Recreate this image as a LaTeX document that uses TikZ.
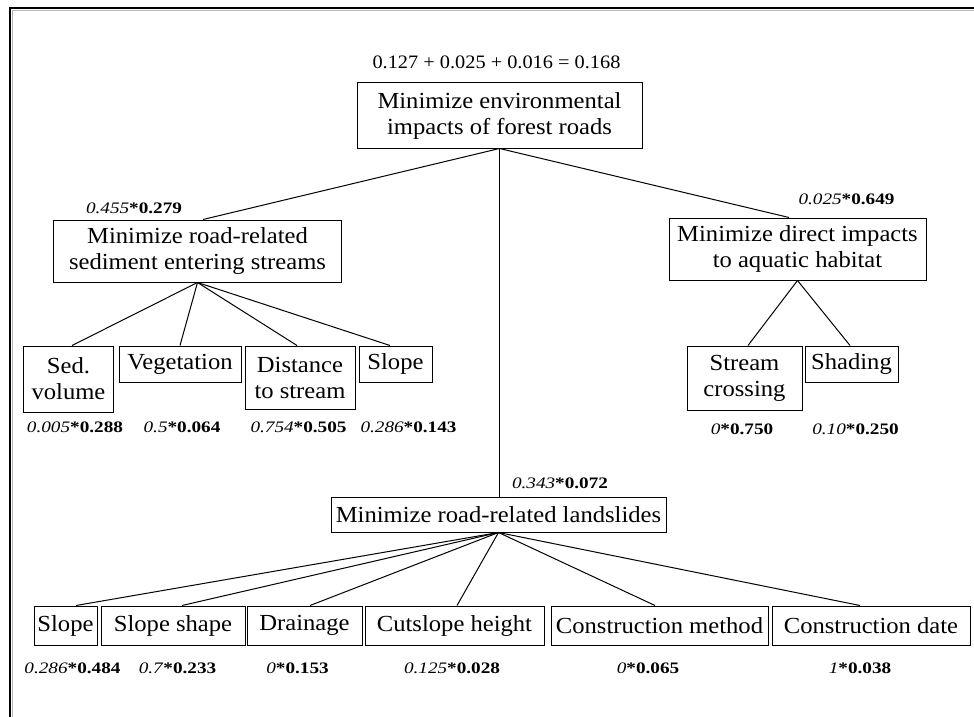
\documentclass[tikz,border=0pt]{standalone}
\usepackage{fontspec}
\setmainfont{Liberation Serif}[FakeStretch=1.07]
\newfontfamily\lblfont{Liberation Serif}[FakeStretch=1.2]
\newcommand{\wlab}[2]{\textit{#1}\textbf{*#2}}
\begin{document}
\begin{tikzpicture}[x=1bp,y=-1bp,
  box/.style={draw, line width=1bp, inner sep=0pt, align=center,
    font=\fontsize{23bp}{26bp}\selectfont},
  lbl/.style={inner sep=0pt, font=\lblfont\fontsize{16bp}{18bp}\selectfont},
  eqlbl/.style={inner sep=0pt, font=\fontsize{19bp}{22bp}\selectfont},
  link/.style={line width=1bp}]
\useasboundingbox (0,0) rectangle (974,717);
% frame
\draw[gray!55, line width=1.2bp] (12.8,717) -- (12.8,10.8) -- (974,10.8);
\draw[line width=2bp] (10,717) -- (10,8) -- (974,8);

% top equation
\node[eqlbl] (eq) at (496.5,62) {0.127 + 0.025 + 0.016 = 0.168};

% boxes
\node[box, minimum width=285bp, minimum height=65bp] (root) at (499.5,115.5) {Minimize environmental\\impacts of forest roads};
\node[box, minimum width=287bp, minimum height=62bp] (sed) at (197.5,251) {Minimize road-related\\sediment entering streams};
\node[box, minimum width=257bp, minimum height=62bp] (aqu) at (797.5,249) {Minimize direct impacts\\to aquatic habitat};
\node[box, minimum width=335bp, minimum height=35bp] (ls) at (498.5,514.5) {Minimize road-related landslides};

\node[box, minimum width=89bp, minimum height=66bp] (sv) at (68.5,379) {Sed.\\volume};
\node[box, minimum width=122bp, minimum height=36bp] (veg) at (180,364) {Vegetation};
\node[box, minimum width=110bp, minimum height=63bp] (dist) at (300,377.5) {Distance\\to stream};
\node[box, minimum width=73bp, minimum height=36bp] (slpa) at (395.5,364) {Slope};

\node[box, minimum width=115bp, minimum height=64bp] (sc) at (744.5,378) {Stream\\crossing};
\node[box, minimum width=93bp, minimum height=36bp] (shd) at (851.5,364) {Shading};

\node[box, minimum width=63bp, minimum height=39bp] (slpb) at (65.5,625.5) {Slope};
\node[box, minimum width=144bp, minimum height=39bp] (ssh) at (173,625.5) {Slope shape};
\node[box, minimum width=115bp, minimum height=39bp] (drn) at (304.5,625.5) {Drainage};
\node[box, minimum width=179bp, minimum height=39bp] (cut) at (454.5,625.5) {Cutslope height};
\node[box, minimum width=217bp, minimum height=39bp] (cm) at (659.5,625.5) {Construction method};
\node[box, minimum width=198bp, minimum height=39bp] (cd) at (871,625.5) {Construction date};

% weight labels
\node[lbl] (lsed) at (134,208) {\wlab{0.455}{0.279}};
\node[lbl] (laqu) at (846.5,199) {\wlab{0.025}{0.649}};
\node[lbl] (lls) at (560,483) {\wlab{0.343}{0.072}};

\node[lbl] (lsv) at (75,427) {\wlab{0.005}{0.288}};
\node[lbl] (lveg) at (182,427) {\wlab{0.5}{0.064}};
\node[lbl] (ldist) at (298.5,427) {\wlab{0.754}{0.505}};
\node[lbl] (lslpa) at (408.5,427) {\wlab{0.286}{0.143}};

\node[lbl] (lsc) at (742,429) {\wlab{0}{0.750}};
\node[lbl] (lshd) at (855.5,429) {\wlab{0.10}{0.250}};

\node[lbl] (lslpb) at (72.5,668) {\wlab{0.286}{0.484}};
\node[lbl] (lssh) at (177.5,668) {\wlab{0.7}{0.233}};
\node[lbl] (ldrn) at (297.5,668) {\wlab{0}{0.153}};
\node[lbl] (lcut) at (452,668) {\wlab{0.125}{0.028}};
\node[lbl] (lcm) at (648,668) {\wlab{0}{0.065}};
\node[lbl] (lcd) at (860,668) {\wlab{1}{0.038}};

% connectors
\draw[link] (root.south) -- ([xshift=5.5bp]sed.north);
\draw[link] (root.south) -- ([xshift=-8.5bp]aqu.north);
\draw[link] (root.south) -- (root.south |- ls.north);

\draw[link] (sed.south) -- ([xshift=3.5bp]sv.north);
\draw[link] (sed.south) -- (veg.north);
\draw[link] (sed.south) -- ([xshift=-3bp]dist.north);
\draw[link] (sed.south) -- ([xshift=-5.5bp]slpa.north);

\draw[link] (aqu.south) -- ([xshift=3.5bp]sc.north);
\draw[link] (aqu.south) -- ([xshift=-1.5bp]shd.north);

\draw[link] (ls.south) -- ([xshift=10.5bp]slpb.north);
\draw[link] (ls.south) -- ([xshift=9bp]ssh.north);
\draw[link] (ls.south) -- ([xshift=5.5bp]drn.north);
\draw[link] (ls.south) -- ([xshift=2.5bp]cut.north);
\draw[link] (ls.south) -- ([xshift=-4.5bp]cm.north);
\draw[link] (ls.south) -- ([xshift=-11bp]cd.north);
\end{tikzpicture}
\end{document}
